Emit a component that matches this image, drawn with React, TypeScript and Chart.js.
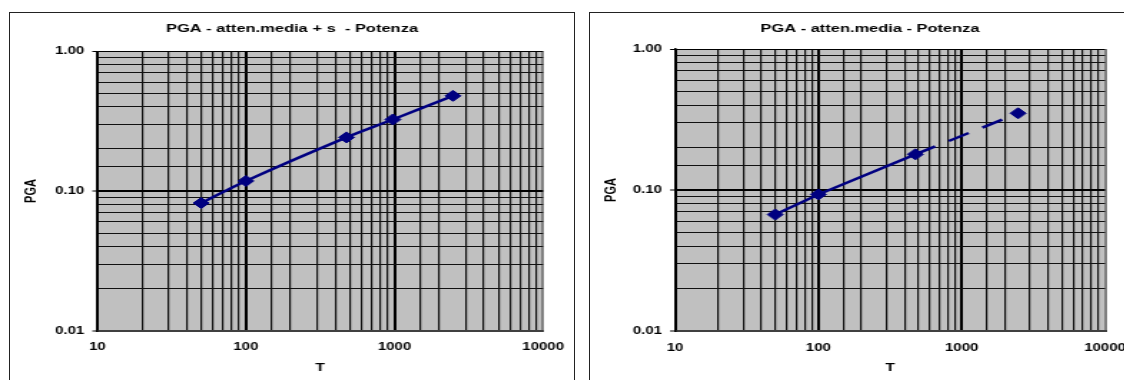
import React, { useEffect, useRef } from "react";
import { Chart, registerables } from "chart.js";

Chart.register(...registerables);

// ---------- data ----------
const RETURN_PERIODS_PLUS_S = [50, 100, 475, 975, 2475];
const PGA_PLUS_S = [0.082, 0.118, 0.242, 0.325, 0.48];
const RETURN_PERIODS_MEDIA = [50, 100, 475, 2475];
const PGA_MEDIA = [0.067, 0.093, 0.179, 0.35];
const X_TICK_LABELS = [10, 100, 1000, 10000];
const Y_TICK_LABELS = [0.01, 0.1, 1];
const TITLES = ["PGA - atten.media + s  - Potenza", "PGA - atten.media - Potenza"];
const X_AXIS_TITLE = "T";
const Y_AXIS_TITLE = "PGA";

const NAVY = "#000080";
const FONT = "'Liberation Sans', Arial, Helvetica, sans-serif";
Chart.defaults.font.family = FONT;
Chart.defaults.color = "#000";

const TOP = 12;
const H = 368;

type Panel = {
  left: number;
  contentW: number;
  W: number;
  plot: { l: number; r: number; t: number; b: number };
  yTitleCx: number;
  title: string;
  xs: number[];
  ys: number[];
  dashAfter: number | null;
  tension: number;
};

const PANELS: Panel[] = [
  {
    left: 9,
    contentW: 564,
    W: 394,
    plot: { l: 97.3, r: 552, t: 51.3, b: 330.7 },
    yTitleCx: 32,
    title: TITLES[0],
    xs: RETURN_PERIODS_PLUS_S,
    ys: PGA_PLUS_S,
    dashAfter: null,
    tension: 0.3,
  },
  {
    left: 589,
    contentW: 560,
    W: 392,
    plot: { l: 675, r: 1105, t: 49, b: 331 },
    yTitleCx: 611.5,
    title: TITLES[1],
    xs: RETURN_PERIODS_MEDIA,
    ys: PGA_MEDIA,
    dashAfter: 2,
    tension: 0,
  },
];

const near = (a: number, b: number) => Math.abs(Math.log10(a) - Math.log10(b)) < 1e-6;
const isDecade = (v: number) => {
  const l = Math.log10(v);
  return Math.abs(l - Math.round(l)) < 1e-6;
};
const xMin = X_TICK_LABELS[0];
const xMax = X_TICK_LABELS[X_TICK_LABELS.length - 1];
const yMin = Y_TICK_LABELS[0];
const yMax = Y_TICK_LABELS[Y_TICK_LABELS.length - 1];

const plotBg = {
  id: "plotBg",
  beforeDraw(chart: any) {
    const { ctx, chartArea: a } = chart;
    ctx.save();
    ctx.fillStyle = "#C0C0C0";
    ctx.fillRect(a.left, a.top, a.right - a.left, a.bottom - a.top);
    ctx.restore();
  },
};

function PanelChart({ p }: { p: Panel }) {
  const ref = useRef<HTMLCanvasElement>(null);
  useEffect(() => {
    if (!ref.current) return;
    const cl = p.left + 1;
    const ct = TOP + 1;
    const s = p.contentW / p.W;
    const plotLeft = (p.plot.l - cl) / s;
    const plotRight = (p.plot.r - cl) / s;
    const plotTop = p.plot.t - ct;
    const plotBottom = p.plot.b - ct;
    const yTitleX = (p.yTitleCx - cl) / s;
    const titleSize = 11.5;
    const titleLH = titleSize * 1.2;
    const titleCy = 16;
    const titlePadTop = titleCy - titleLH / 2;
    const titlePadBottom = plotTop - titlePadTop - titleLH;
    const axisTitleSize = 11;
    const tickLen = 3.5;

    const chart = new Chart(ref.current, {
      type: "line",
      data: {
        datasets: [
          {
            label: Y_AXIS_TITLE,
            xAxisID: "x",
            yAxisID: "y",
            data: p.xs.map((x, i) => ({ x, y: p.ys[i] })),
            borderColor: NAVY,
            backgroundColor: NAVY,
            borderWidth: 2.5,
            pointStyle: "rectRot",
            pointRadius: 5.5,
            pointHoverRadius: 5.5,
            pointBorderWidth: 1,
            pointBackgroundColor: NAVY,
            pointBorderColor: NAVY,
            tension: p.tension,
            fill: false,
            segment: {
              borderDash: (c: any) =>
                p.dashAfter !== null && c.p0DataIndex >= p.dashAfter ? [16, 11] : undefined,
            },
          } as any,
        ],
      },
      options: {
        animation: false,
        responsive: false,
        maintainAspectRatio: false,
        devicePixelRatio: 1,
        layout: { padding: 0 },
        plugins: {
          legend: { display: false },
          tooltip: { enabled: false },
          title: {
            display: true,
            text: p.title,
            color: "#000",
            font: { size: titleSize, weight: "bold", family: FONT },
            padding: { top: titlePadTop, bottom: titlePadBottom },
          },
        },
        scales: {
          x: {
            type: "logarithmic",
            position: "bottom",
            min: xMin,
            max: xMax,
            afterFit: (sc: any) => {
              sc.height = H - plotBottom;
            },
            grid: {
              color: (c: any) => {
                const v = c.tick?.value;
                if (v === undefined) return "#111";
                if (near(v, xMax)) return "#808080";
                return isDecade(v) ? "#000" : "#111";
              },
              lineWidth: (c: any) => {
                const v = c.tick?.value;
                if (v === undefined) return 1.2;
                return isDecade(v) ? 2 : 1.2;
              },
              drawTicks: true,
              tickLength: tickLen,
              tickColor: "rgba(0,0,0,0)",
            },
            border: { display: true, color: "#404040", width: 2 },
            ticks: {
              autoSkip: false,
              maxRotation: 0,
              minRotation: 0,
              padding: 7,
              color: "#000",
              font: { size: 10.5, weight: "bold", family: FONT },
              callback: (v: any) => {
                const n = Number(v);
                return X_TICK_LABELS.some((t) => near(n, t)) ? String(Math.round(n)) : "";
              },
            },
            title: {
              display: true,
              text: X_AXIS_TITLE,
              color: "#000",
              font: { size: axisTitleSize, weight: "bold", family: FONT },
              padding: { top: 0, bottom: 6.9 },
            },
          },
          y: {
            type: "logarithmic",
            position: "left",
            min: yMin,
            max: yMax,
            afterFit: (sc: any) => {
              sc.width = plotLeft;
            },
            grid: {
              color: (c: any) => {
                const v = c.tick?.value;
                if (v === undefined) return "#111";
                return isDecade(v) ? "#000" : "#111";
              },
              lineWidth: (c: any) => {
                const v = c.tick?.value;
                if (v === undefined) return 1;
                if (near(v, yMax)) return 1;
                return isDecade(v) ? 2 : 1;
              },
              drawTicks: true,
              tickLength: tickLen,
              tickWidth: 1,
              tickColor: (c: any) => {
                const v = c.tick?.value;
                return v !== undefined && Y_TICK_LABELS.some((t) => near(v, t)) ? "#000" : "rgba(0,0,0,0)";
              },
            },
            border: { display: true, color: "#000", width: 1.5 },
            ticks: {
              autoSkip: false,
              padding: 5.6,
              color: "#000",
              font: { size: 10.5, weight: "bold", family: FONT },
              callback: (v: any) => {
                const n = Number(v);
                return Y_TICK_LABELS.some((t) => near(n, t)) ? n.toFixed(2) : "";
              },
            },
            title: {
              display: true,
              text: Y_AXIS_TITLE,
              color: "#000",
              font: { size: axisTitleSize, weight: "bold", family: FONT },
              padding: { top: yTitleX - (axisTitleSize * 1.2) / 2, bottom: 0 },
            },
          },
          yR: {
            type: "linear",
            position: "right",
            display: true,
            grid: { display: false, drawTicks: false },
            border: { display: false },
            ticks: { display: false },
            afterFit: (sc: any) => {
              sc.width = p.W - plotRight;
            },
          },
        },
      } as any,
      plugins: [plotBg],
    });
    return () => chart.destroy();
  }, [p]);

  return (
    <div
      style={{
        position: "absolute",
        left: p.left,
        top: TOP,
        width: p.contentW,
        height: H + 4,
        border: "1px solid #222",
        background: "#fff",
        boxSizing: "content-box",
      }}
    >
      <canvas
        ref={ref}
        width={p.W}
        height={H}
        style={{ display: "block", width: p.contentW + "px", height: H + "px" }}
      />
    </div>
  );
}

export default function App() {
  return (
    <div
      style={{
        position: "fixed",
        left: 0,
        top: 0,
        width: 1124,
        height: 380,
        overflow: "hidden",
        background: "#fff",
      }}
    >
      {PANELS.map((p, i) => (
        <PanelChart key={i} p={p} />
      ))}
    </div>
  );
}
